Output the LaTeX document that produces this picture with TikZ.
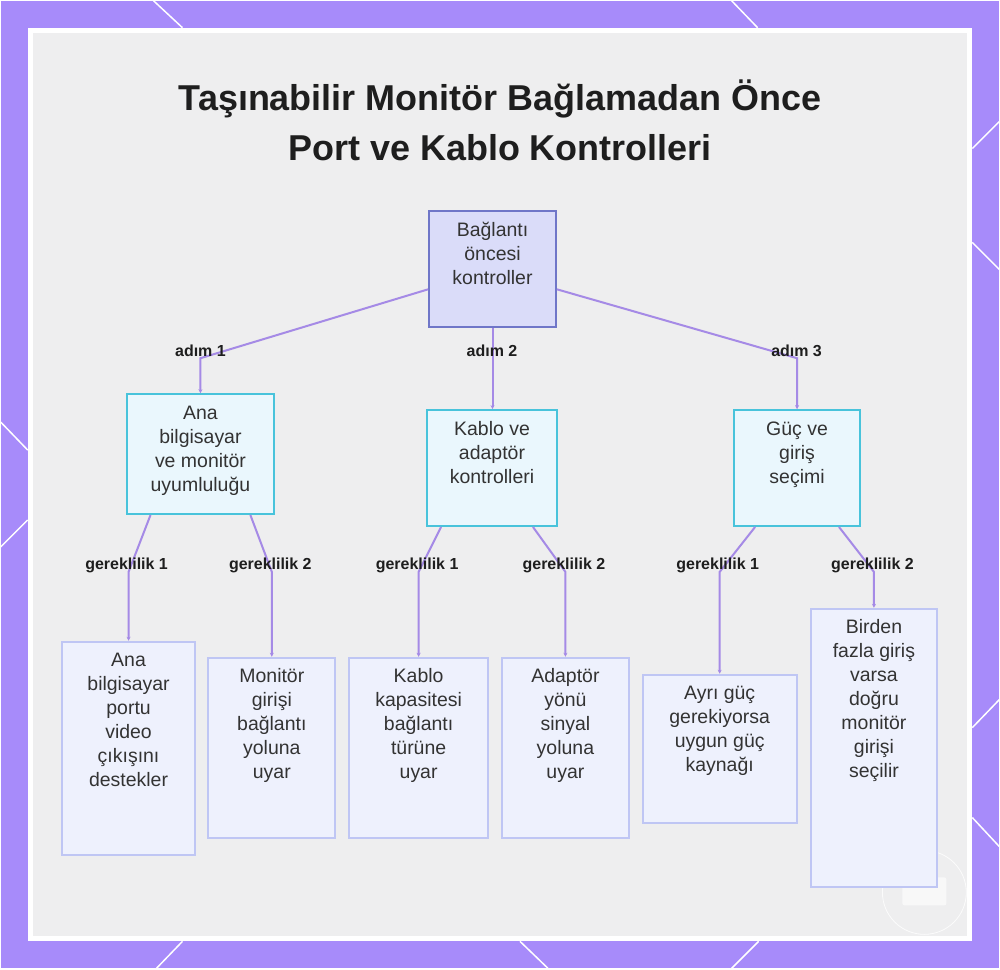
\documentclass[tikz,border=0pt]{standalone}
\usepackage{fontspec}
\setmainfont{Liberation Sans}
\usetikzlibrary{arrows.meta,positioning,calc}
\definecolor{framepurple}{HTML}{A78BFA}
\definecolor{panelgray}{HTML}{EEEEEF}
\definecolor{rootfill}{HTML}{DADCF9}
\definecolor{rootline}{HTML}{6F76C8}
\definecolor{stepfill}{HTML}{EAF7FD}
\definecolor{stepline}{HTML}{48C3DB}
\definecolor{reqfill}{HTML}{EEF1FD}
\definecolor{reqline}{HTML}{BFC6F4}
\definecolor{linkpurple}{HTML}{A58AE6}
\definecolor{inktext}{HTML}{333333}
\definecolor{titleink}{HTML}{1E1E1E}
% lines of a box, hung from the first baseline
\newcommand\boxlines[1]{\begin{tabular}[t]{@{}c@{}}#1\end{tabular}}
\tikzset{
    every node/.style={font=\fontsize{19.5}{24}\selectfont,text=inktext},
    box/.style={rectangle,anchor=north,inner xsep=2pt,inner ysep=0pt,text height=25pt,line width=2pt},
    rootbox/.style={box,draw=rootline,fill=rootfill},
    stepbox/.style={box,draw=stepline,fill=stepfill},
    reqbox/.style={box,draw=reqline,fill=reqfill},
    linklbl/.style={font=\fontsize{16}{18}\selectfont\bfseries,text=titleink},
    link/.style={draw=linkpurple,line width=2pt,-{Stealth[length=4pt,width=4pt]}},
    deco/.style={draw=white,line width=1.5pt}
}
\begin{document}
\begin{tikzpicture}[x=1pt,y=-1pt]
% frame
\fill[framepurple] (0,0) rectangle (1000,969);
\draw[deco] (153,0) -- (182,27) (732,0) -- (758,27);
\draw[deco] (182,942) -- (156,969) (520,942) -- (548,969) (759,942) -- (732,969);
\draw[deco] (0,422) -- (27,450) (27,520) -- (0,547);
\draw[deco] (973,148) -- (1000,121) (973,242) -- (1000,269) (973,728) -- (1000,700) (973,818) -- (1000,847);
\fill[white] (27,27) rectangle (973,942);
\fill[panelgray] (32,32) rectangle (968,937);
\draw[white,line width=0.8pt,opacity=0.8] (925,893) circle (42);
\fill[white,opacity=0.6,rounded corners=2pt] (903,878) rectangle (947,906);

\node[font=\fontsize{36}{50}\selectfont\bfseries,text=titleink,align=center] (title) at (500,120)
 {Taşınabilir Monitör Bağlamadan Önce\\Port ve Kablo Kontrolleri};

% boxes
\node[rootbox,minimum width=127pt,text depth=91pt] (root) at (492.5,210) {\boxlines{Bağlantı\\öncesi\\kontroller}};

\node[stepbox,minimum width=148pt,text depth=95pt] (hostmon) at (200,393) {\boxlines{Ana\\bilgisayar\\ve monitör\\uyumluluğu}};
\node[stepbox,minimum width=130pt,text depth=91pt] (cable) at (492,409) {\boxlines{Kablo ve\\adaptör\\kontrolleri}};
\node[stepbox,minimum width=127pt,text depth=91pt] (power) at (797.5,409) {\boxlines{Güç ve\\giriş\\seçimi}};

\node[reqbox,minimum width=134pt,text depth=189pt] (hostport) at (128,641) {\boxlines{Ana\\bilgisayar\\portu\\video\\çıkışını\\destekler}};
\node[reqbox,minimum width=127pt,text depth=156pt] (moninput) at (271.5,657) {\boxlines{Monitör\\girişi\\bağlantı\\yoluna\\uyar}};
\node[reqbox,minimum width=139pt,text depth=156pt] (cablecap) at (418.5,657) {\boxlines{Kablo\\kapasitesi\\bağlantı\\türüne\\uyar}};
\node[reqbox,minimum width=127pt,text depth=156pt] (adapdir) at (565.5,657) {\boxlines{Adaptör\\yönü\\sinyal\\yoluna\\uyar}};
\node[reqbox,minimum width=154pt,text depth=123pt] (psupply) at (720,674) {\boxlines{Ayrı güç\\gerekiyorsa\\uygun güç\\kaynağı}};
\node[reqbox,minimum width=127pt,text depth=254pt] (inputsel) at (874.5,608) {\boxlines{Birden\\fazla giriş\\varsa\\doğru\\monitör\\girişi\\seçilir}};

% bends
\coordinate (k1) at (200,358);
\coordinate (k3) at (797.5,358);
\coordinate (k11) at (128,572);
\coordinate (k12) at (271.5,572);
\coordinate (k21) at (418.5,572);
\coordinate (k22) at (565.5,572);
\coordinate (k31) at (720,572);
\coordinate (k32) at (874.5,572);

\draw[link] ([yshift=-20pt]root.west) -- (k1) -- (hostmon.north);
\draw[link] (root.south) -- (root.south |- cable.north);
\draw[link] ([yshift=-20pt]root.east) -- (k3) -- (power.north);
\draw[link] ([xshift=-50pt]hostmon.south) -- (k11) -- (hostport.north);
\draw[link] ([xshift=50pt]hostmon.south) -- (k12) -- (moninput.north);
\draw[link] ([xshift=-51pt]cable.south) -- (k21) -- (cablecap.north);
\draw[link] ([xshift=41pt]cable.south) -- (k22) -- (adapdir.north);
\draw[link] ([xshift=-42pt]power.south) -- (k31) -- (psupply.north);
\draw[link] ([xshift=42pt]power.south) -- (k32) -- (inputsel.north);

% labels
\node[linklbl] (s1) at (200,351) {adım 1};
\node[linklbl] (s2) at (492,351) {adım 2};
\node[linklbl] (s3) at (797,351) {adım 3};
\node[linklbl] (g11) at (126,566) {gereklilik 1};
\node[linklbl] (g12) at (270,566) {gereklilik 2};
\node[linklbl] (g21) at (417,566) {gereklilik 1};
\node[linklbl] (g22) at (564,566) {gereklilik 2};
\node[linklbl] (g31) at (718,566) {gereklilik 1};
\node[linklbl] (g32) at (873,566) {gereklilik 2};
\end{tikzpicture}
\end{document}
